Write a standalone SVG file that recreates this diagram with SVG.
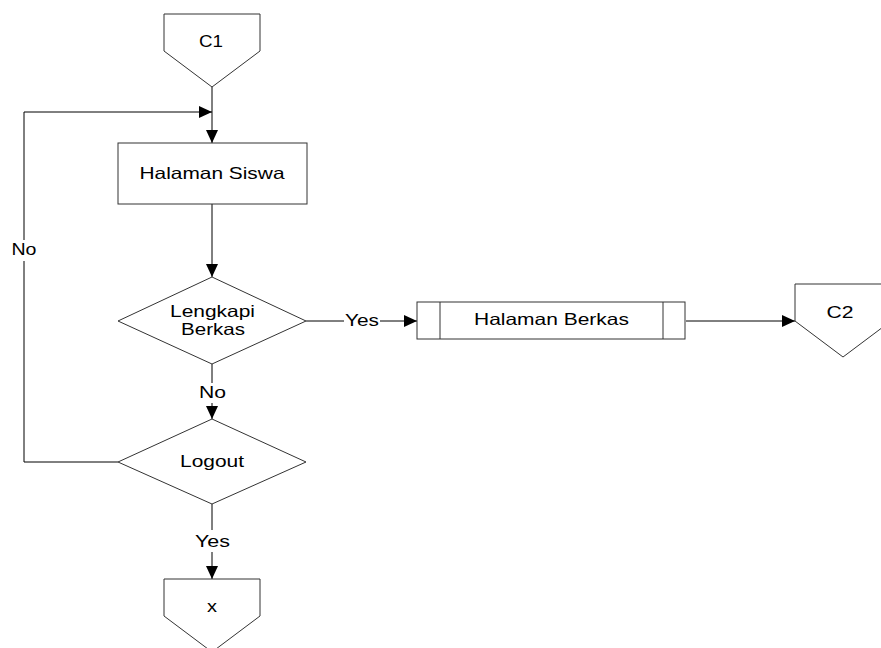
<svg xmlns="http://www.w3.org/2000/svg" width="881" height="648" viewBox="0 0 881 648">
<style>
.shape{fill:#fff;stroke:#333;stroke-width:1}
.conn{fill:none;stroke:#000;stroke-width:1}
text{font-family:"Liberation Sans",Arial,sans-serif;font-size:16.5px;fill:#000;text-anchor:middle}
</style>
<defs>
<marker id="arr" markerUnits="userSpaceOnUse" markerWidth="14" markerHeight="14" refX="13" refY="6" orient="auto">
<path d="M0,0 L13,6 L0,12 z" fill="#000"/>
</marker>
</defs>
<rect width="881" height="648" fill="#fff"/>
<g id="connectors">
<line class="conn" x1="212" y1="87" x2="212" y2="143" marker-end="url(#arr)"/>
<polyline class="conn" points="118,462 24,462 24,261"/>
<polyline class="conn" points="24,240 24,112 212,112" marker-end="url(#arr)"/>
<line class="conn" x1="212" y1="204" x2="212" y2="277" marker-end="url(#arr)"/>
<line class="conn" x1="212" y1="364" x2="212" y2="383"/>
<line class="conn" x1="212" y1="403" x2="212" y2="419" marker-end="url(#arr)"/>
<line class="conn" x1="306" y1="321" x2="344" y2="321"/>
<line class="conn" x1="380" y1="321" x2="417" y2="321" marker-end="url(#arr)"/>
<line class="conn" x1="686" y1="321" x2="795" y2="321" marker-end="url(#arr)"/>
<line class="conn" x1="212" y1="504" x2="212" y2="530"/>
<line class="conn" x1="212" y1="552" x2="212" y2="579" marker-end="url(#arr)"/>
<text x="24" y="255" textLength="25" lengthAdjust="spacingAndGlyphs">No</text>
<text x="212.5" y="398" textLength="27" lengthAdjust="spacingAndGlyphs">No</text>
<text x="362" y="326" textLength="34" lengthAdjust="spacingAndGlyphs">Yes</text>
<text x="212.5" y="547" textLength="35" lengthAdjust="spacingAndGlyphs">Yes</text>
</g>
<g id="c1">
<polygon class="shape" points="164,14 260,14 260,51 212,87 164,51"/>
<text x="211" y="47" textLength="24" lengthAdjust="spacingAndGlyphs">C1</text>
</g>
<g id="halaman-siswa">
<rect class="shape" x="118" y="143" width="189" height="61"/>
<text x="212" y="179" textLength="145" lengthAdjust="spacingAndGlyphs">Halaman Siswa</text>
</g>
<g id="lengkapi-berkas">
<polygon class="shape" points="212,277 306,321 212,364 118,321"/>
<text x="212.5" y="317" textLength="85" lengthAdjust="spacingAndGlyphs">Lengkapi</text>
<text x="213" y="335" textLength="64" lengthAdjust="spacingAndGlyphs">Berkas</text>
</g>
<g id="logout">
<polygon class="shape" points="212,419 306,462 212,504 118,462"/>
<text x="212" y="467" textLength="64" lengthAdjust="spacingAndGlyphs">Logout</text>
</g>
<g id="halaman-berkas">
<rect class="shape" x="417" y="302" width="268" height="37"/>
<line class="shape" x1="440" y1="302" x2="440" y2="339"/>
<line class="shape" x1="663" y1="302" x2="663" y2="339"/>
<text x="551.5" y="325" textLength="155" lengthAdjust="spacingAndGlyphs">Halaman Berkas</text>
</g>
<g id="c2">
<polygon class="shape" points="795,284 891,284 891,321 843,357 795,321"/>
<text x="840" y="318" textLength="27" lengthAdjust="spacingAndGlyphs">C2</text>
</g>
<g id="x">
<polygon class="shape" points="164,579 260,579 260,616 212,652 164,616"/>
<text x="212" y="612" textLength="10" lengthAdjust="spacingAndGlyphs">x</text>
</g>
</svg>
